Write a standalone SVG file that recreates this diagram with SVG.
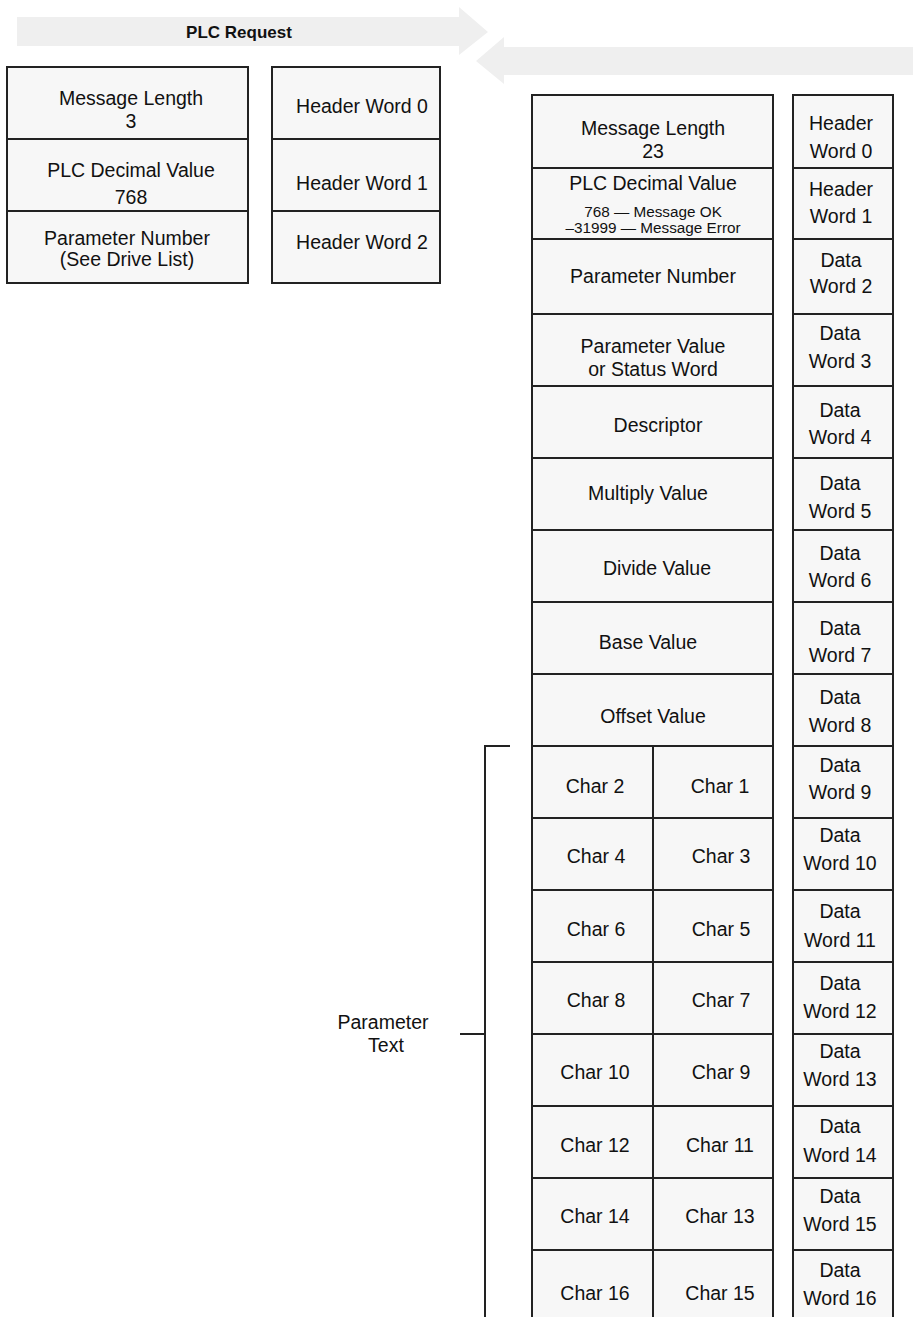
<svg xmlns="http://www.w3.org/2000/svg" width="913" height="1317" viewBox="0 0 913 1317">
<style>
.c{fill:#f7f7f7;stroke:#222;stroke-width:2}
.t{font-family:"Liberation Sans",Arial,sans-serif;font-size:19.5px;fill:#111;text-anchor:middle}
.s{font-family:"Liberation Sans",Arial,sans-serif;font-size:15.3px;fill:#111;text-anchor:middle}
.b{font-family:"Liberation Sans",Arial,sans-serif;font-size:17px;font-weight:bold;fill:#111;text-anchor:middle}
.ar{fill:#efefef}
.ln{stroke:#222;stroke-width:2;fill:none}
</style>
<rect width="913" height="1317" fill="#fff"/>
<g id="arrow-request">
<polygon class="ar" points="17,17 459,17 459,7 488,32 459,55 459,46 17,46"/>
<text class="b" x="239" y="38">PLC Request</text>
</g>
<g id="arrow-response">
<polygon class="ar" points="913,47 504,47 504,37 476,61 504,84 504,75 913,75"/>
</g>
<g id="req-msg-length"><rect class="c" x="7" y="67" width="241" height="72"/><text class="t" x="131" y="105">Message Length</text><text class="t" x="131" y="128">3</text></g>
<g id="req-plc-decimal"><rect class="c" x="7" y="139" width="241" height="72"/><text class="t" x="131" y="177">PLC Decimal Value</text><text class="t" x="131" y="204">768</text></g>
<g id="req-param-number"><rect class="c" x="7" y="211" width="241" height="72"/><text class="t" x="127" y="245">Parameter Number</text><text class="t" x="127" y="266">(See Drive List)</text></g>
<g id="req-hw0"><rect class="c" x="272" y="67" width="168" height="72"/><text class="t" x="362" y="113">Header Word 0</text></g>
<g id="req-hw1"><rect class="c" x="272" y="139" width="168" height="72"/><text class="t" x="362" y="190">Header Word 1</text></g>
<g id="req-hw2"><rect class="c" x="272" y="211" width="168" height="72"/><text class="t" x="362" y="249">Header Word 2</text></g>
<g id="resp-msg-length"><rect class="c" x="532" y="95" width="241" height="73"/><text class="t" x="653" y="135">Message Length</text><text class="t" x="653" y="158">23</text></g>
<g id="resp-plc-decimal"><rect class="c" x="532" y="168" width="241" height="71"/><text class="t" x="653" y="190">PLC Decimal Value</text><text class="s" x="653" y="217">768 — Message OK</text><text class="s" x="653" y="233">–31999 — Message Error</text></g>
<g id="resp-param-number"><rect class="c" x="532" y="239" width="241" height="75"/><text class="t" x="653" y="283">Parameter Number</text></g>
<g id="resp-param-value"><rect class="c" x="532" y="314" width="241" height="72"/><text class="t" x="653" y="353">Parameter Value</text><text class="t" x="653" y="376">or Status Word</text></g>
<g id="resp-descriptor"><rect class="c" x="532" y="386" width="241" height="72"/><text class="t" x="658" y="432">Descriptor</text></g>
<g id="resp-multiply"><rect class="c" x="532" y="458" width="241" height="72"/><text class="t" x="648" y="500">Multiply Value</text></g>
<g id="resp-divide"><rect class="c" x="532" y="530" width="241" height="72"/><text class="t" x="657" y="575">Divide Value</text></g>
<g id="resp-base"><rect class="c" x="532" y="602" width="241" height="72"/><text class="t" x="648" y="649">Base Value</text></g>
<g id="resp-offset"><rect class="c" x="532" y="674" width="241" height="72"/><text class="t" x="653" y="723">Offset Value</text></g>
<g id="resp-char-2-1"><rect class="c" x="532" y="746" width="121" height="72"/><rect class="c" x="653" y="746" width="120" height="72"/><text class="t" x="595" y="793">Char 2</text><text class="t" x="720" y="793">Char 1</text></g>
<g id="resp-char-4-3"><rect class="c" x="532" y="818" width="121" height="72"/><rect class="c" x="653" y="818" width="120" height="72"/><text class="t" x="596" y="863">Char 4</text><text class="t" x="721" y="863">Char 3</text></g>
<g id="resp-char-6-5"><rect class="c" x="532" y="890" width="121" height="72"/><rect class="c" x="653" y="890" width="120" height="72"/><text class="t" x="596" y="936">Char 6</text><text class="t" x="721" y="936">Char 5</text></g>
<g id="resp-char-8-7"><rect class="c" x="532" y="962" width="121" height="72"/><rect class="c" x="653" y="962" width="120" height="72"/><text class="t" x="596" y="1007">Char 8</text><text class="t" x="721" y="1007">Char 7</text></g>
<g id="resp-char-10-9"><rect class="c" x="532" y="1034" width="121" height="72"/><rect class="c" x="653" y="1034" width="120" height="72"/><text class="t" x="595" y="1079">Char 10</text><text class="t" x="721" y="1079">Char 9</text></g>
<g id="resp-char-12-11"><rect class="c" x="532" y="1106" width="121" height="72"/><rect class="c" x="653" y="1106" width="120" height="72"/><text class="t" x="595" y="1152">Char 12</text><text class="t" x="720" y="1152">Char 11</text></g>
<g id="resp-char-14-13"><rect class="c" x="532" y="1178" width="121" height="72"/><rect class="c" x="653" y="1178" width="120" height="72"/><text class="t" x="595" y="1223">Char 14</text><text class="t" x="720" y="1223">Char 13</text></g>
<g id="resp-char-16-15"><rect class="c" x="532" y="1250" width="121" height="80"/><rect class="c" x="653" y="1250" width="120" height="80"/><text class="t" x="595" y="1300">Char 16</text><text class="t" x="720" y="1300">Char 15</text></g>
<g id="resp-hw0"><rect class="c" x="793" y="95" width="100" height="73"/><text class="t" x="841" y="130">Header</text><text class="t" x="841" y="158">Word 0</text></g>
<g id="resp-hw1"><rect class="c" x="793" y="168" width="100" height="71"/><text class="t" x="841" y="196">Header</text><text class="t" x="841" y="223">Word 1</text></g>
<g id="resp-dw2"><rect class="c" x="793" y="239" width="100" height="75"/><text class="t" x="841" y="267">Data</text><text class="t" x="841" y="293">Word 2</text></g>
<g id="resp-dw3"><rect class="c" x="793" y="314" width="100" height="72"/><text class="t" x="840" y="340">Data</text><text class="t" x="840" y="368">Word 3</text></g>
<g id="resp-dw4"><rect class="c" x="793" y="386" width="100" height="72"/><text class="t" x="840" y="417">Data</text><text class="t" x="840" y="444">Word 4</text></g>
<g id="resp-dw5"><rect class="c" x="793" y="458" width="100" height="72"/><text class="t" x="840" y="490">Data</text><text class="t" x="840" y="518">Word 5</text></g>
<g id="resp-dw6"><rect class="c" x="793" y="530" width="100" height="72"/><text class="t" x="840" y="560">Data</text><text class="t" x="840" y="587">Word 6</text></g>
<g id="resp-dw7"><rect class="c" x="793" y="602" width="100" height="72"/><text class="t" x="840" y="635">Data</text><text class="t" x="840" y="662">Word 7</text></g>
<g id="resp-dw8"><rect class="c" x="793" y="674" width="100" height="72"/><text class="t" x="840" y="704">Data</text><text class="t" x="840" y="732">Word 8</text></g>
<g id="resp-dw9"><rect class="c" x="793" y="746" width="100" height="72"/><text class="t" x="840" y="772">Data</text><text class="t" x="840" y="799">Word 9</text></g>
<g id="resp-dw10"><rect class="c" x="793" y="818" width="100" height="72"/><text class="t" x="840" y="842">Data</text><text class="t" x="840" y="870">Word 10</text></g>
<g id="resp-dw11"><rect class="c" x="793" y="890" width="100" height="72"/><text class="t" x="840" y="918">Data</text><text class="t" x="840" y="947">Word 11</text></g>
<g id="resp-dw12"><rect class="c" x="793" y="962" width="100" height="72"/><text class="t" x="840" y="990">Data</text><text class="t" x="840" y="1018">Word 12</text></g>
<g id="resp-dw13"><rect class="c" x="793" y="1034" width="100" height="72"/><text class="t" x="840" y="1058">Data</text><text class="t" x="840" y="1086">Word 13</text></g>
<g id="resp-dw14"><rect class="c" x="793" y="1106" width="100" height="72"/><text class="t" x="840" y="1133">Data</text><text class="t" x="840" y="1162">Word 14</text></g>
<g id="resp-dw15"><rect class="c" x="793" y="1178" width="100" height="72"/><text class="t" x="840" y="1203">Data</text><text class="t" x="840" y="1231">Word 15</text></g>
<g id="resp-dw16"><rect class="c" x="793" y="1250" width="100" height="80"/><text class="t" x="840" y="1277">Data</text><text class="t" x="840" y="1305">Word 16</text></g>
<g id="param-text-label"><text class="t" x="383" y="1029">Parameter</text><text class="t" x="386" y="1052">Text</text></g>
<g id="connectors">
<polyline class="ln" points="510,746 485,746 485,1320"/>
<line class="ln" x1="460" y1="1034" x2="485" y2="1034"/>
</g>
</svg>
